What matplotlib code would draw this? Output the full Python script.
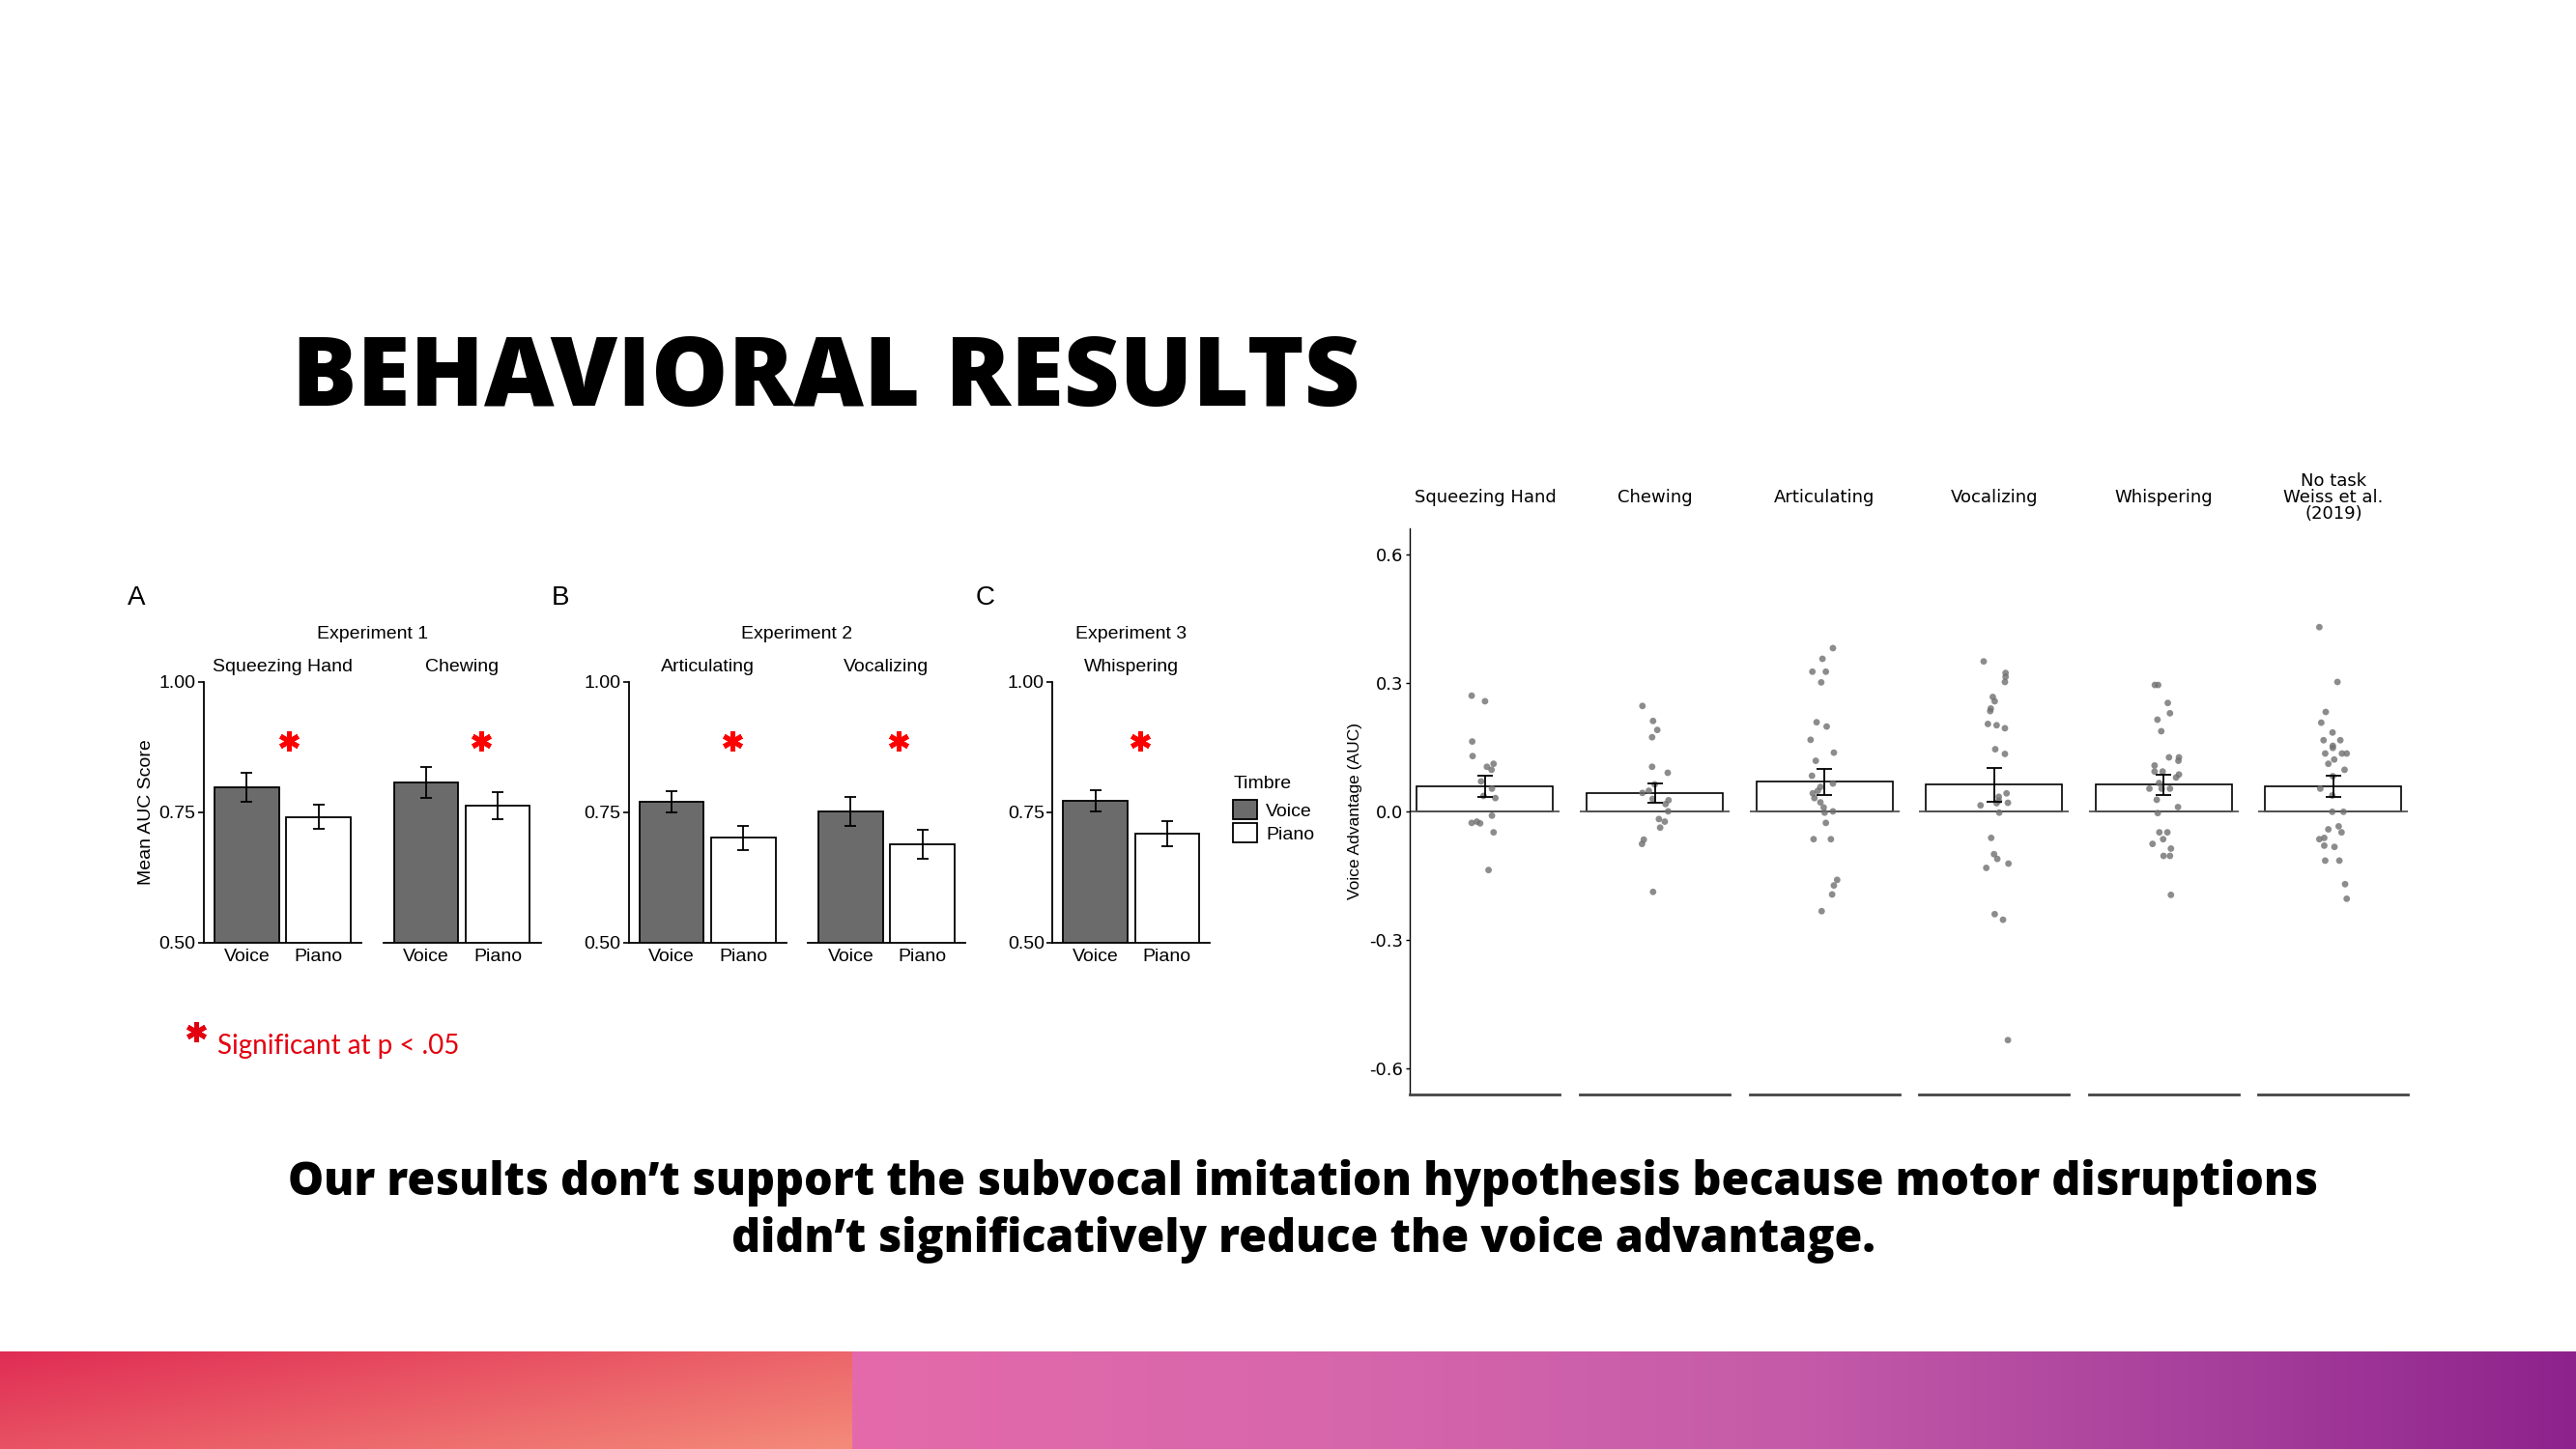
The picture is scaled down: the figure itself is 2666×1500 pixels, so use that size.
import numpy as np
import matplotlib.pyplot as plt
from matplotlib.patches import Patch
from matplotlib.lines import Line2D

plt.rcParams['axes.unicode_minus'] = False
plt.rcParams['font.family'] = ['Liberation Sans', 'DejaVu Sans']

# ---- left panels: mean AUC score by timbre ----
tasks = ["Squeezing Hand", "Chewing", "Articulating", "Vocalizing", "Whispering"]
voice_mean = [0.798, 0.807, 0.770, 0.752, 0.772]
voice_se = [0.028, 0.030, 0.020, 0.027, 0.021]
piano_mean = [0.741, 0.763, 0.701, 0.689, 0.709]
piano_se = [0.023, 0.026, 0.023, 0.027, 0.024]
timbres = ["Voice", "Piano"]
experiments = ["Experiment 1", "Experiment 2", "Experiment 3"]
exp_tasks = [[0, 1], [2, 3], [4]]
letters = ["A", "B", "C"]
star_x = [0.59, 0.77, 0.85, 0.67, 0.63]
star_y = 0.887

# ---- right panel: voice advantage per participant ----
adv_tasks = ["Squeezing Hand", "Chewing", "Articulating", "Vocalizing", "Whispering",
             "No task\nWeiss et al.\n(2019)"]
adv_mean = [0.0575, 0.043, 0.069, 0.062, 0.062, 0.058]
adv_se = [0.025, 0.023, 0.030, 0.040, 0.023, 0.025]

squeeze_pts = [0.270, 0.257, 0.163, 0.129, 0.104, 0.097, 0.111, 0.070, 0.053, 0.036,
               0.031, -0.010, -0.027, -0.024, -0.028, -0.049, -0.137]
squeeze_jit = [-0.098, 0.0, -0.094, -0.091, 0.014, 0.048, 0.063, -0.029, 0.051, -0.011,
               0.076, 0.051, -0.098, -0.060, -0.036, 0.063, 0.026]
chew_pts = [0.246, 0.211, 0.190, 0.173, 0.104, 0.090, 0.043, 0.048, 0.063, 0.029,
            0.026, 0.017, 0.0, -0.018, -0.024, -0.038, -0.066, -0.076, -0.188]
chew_jit = [-0.090, -0.012, 0.019, -0.019, -0.019, 0.096, -0.090, -0.043, 0.0, -0.015,
            0.102, 0.080, 0.099, 0.031, 0.074, 0.040, -0.080, -0.093, -0.012]
artic_pts = [0.381, 0.356, 0.326, 0.326, 0.301, 0.208, 0.198, 0.167, 0.137, 0.118,
             0.083, 0.065, 0.057, 0.048, 0.042, 0.031, 0.021, 0.009, -0.003, 0.0,
             -0.027, -0.065, -0.065, -0.160, -0.173, -0.194, -0.233]
artic_jit = [0.063, -0.014, -0.088, 0.011, -0.023, -0.057, 0.017, -0.101, 0.070, -0.063,
             -0.091, 0.063, -0.029, -0.048, -0.085, -0.073, -0.029, -0.005, 0.002, 0.063,
             0.011, -0.079, 0.048, 0.094, 0.070, 0.057, -0.020]
vocal_pts = [0.350, 0.323, 0.314, 0.302, 0.267, 0.257, 0.240, 0.234, 0.204, 0.201,
             0.194, 0.145, 0.134, 0.042, 0.034, 0.025, 0.020, 0.019, 0.014, -0.003,
             -0.062, -0.100, -0.111, -0.122, -0.132, -0.240, -0.253, -0.534]
vocal_jit = [-0.076, 0.085, 0.085, 0.080, -0.009, 0.005, -0.024, -0.028, -0.045, 0.019,
             0.080, 0.009, 0.080, 0.092, 0.035, 0.035, 0.102, 0.019, -0.099, 0.038,
             -0.021, 0.0, 0.024, 0.106, -0.057, 0.005, 0.066, 0.102]
whisp_pts = [0.295, 0.295, 0.253, 0.229, 0.214, 0.187, 0.126, 0.126, 0.118, 0.107,
             0.093, 0.093, 0.086, 0.079, 0.066, 0.053, 0.053, 0.053, 0.027, 0.010,
             -0.004, -0.049, -0.049, -0.065, -0.076, -0.087, -0.104, -0.104, -0.195]
whisp_jit = [-0.065, -0.041, 0.030, 0.046, -0.046, -0.018, 0.039, 0.112, 0.108, -0.067,
             -0.067, -0.008, 0.112, 0.091, -0.034, -0.105, -0.015, 0.046, -0.051, 0.105,
             -0.044, -0.032, 0.027, -0.004, -0.082, 0.053, -0.001, 0.046, 0.053]
notask_pts = [0.430, 0.302, 0.232, 0.207, 0.184, 0.166, 0.166, 0.153, 0.148, 0.135,
              0.135, 0.135, 0.121, 0.111, 0.097, 0.082, 0.053, 0.037, -0.001, -0.001,
              -0.042, -0.035, -0.049, -0.065, -0.062, -0.080, -0.083, -0.115, -0.115,
              -0.170, -0.204]
notask_jit = [-0.103, 0.030, -0.056, -0.089, -0.006, -0.072, 0.051, -0.004, -0.004, -0.060,
              0.063, 0.098, 0.006, -0.037, 0.082, -0.004, -0.096, -0.008, -0.008, 0.074,
              -0.037, 0.039, 0.060, -0.103, -0.067, -0.067, 0.008, -0.060, 0.044, 0.086,
              0.098]
adv_pts = [squeeze_pts, chew_pts, artic_pts, vocal_pts, whisp_pts, notask_pts]
adv_jit = [squeeze_jit, chew_jit, artic_jit, vocal_jit, whisp_jit, notask_jit]

W, H = 2666, 1500
fig = plt.figure(figsize=(W / 100, H / 100), dpi=100)
fig.patch.set_facecolor('white')


def rect(x0, y0, w, h):
    # pixel box with top-left origin -> figure fraction
    return [x0 / W, 1 - (y0 + h) / H, w / W, h / H]


def fx(x):
    return x / W


def fy(y):
    return 1 - y / H


# ---- left bar panels ----
dark = '#6b6b6b'
lx = [211, 396.6, 650.7, 836, 1089.3]
lw_, ly, lh = 163, 706, 270
left_axes = []
for g, idx in enumerate(exp_tasks):
    for j, i in enumerate(idx):
        ax = fig.add_axes(rect(lx[i], ly, lw_, lh))
        left_axes.append(ax)
        means = [voice_mean[i], piano_mean[i]]
        ses = [voice_se[i], piano_se[i]]
        ax.bar([0, 1], means, width=0.9, color=[dark, 'white'], edgecolor='black', linewidth=1.3)
        ax.errorbar([0, 1], means, yerr=ses, fmt='none', ecolor='black',
                    elinewidth=1.3, capsize=4, capthick=1.3)
        ax.plot(star_x[i], star_y, marker=(6, 2, 0), ms=15, mew=3.6, color='red')
        ax.set_xlim(-0.6, 1.6)
        ax.set_ylim(0.5, 1.0)
        ax.set_xticks([0, 1], timbres)
        ax.tick_params(axis='x', length=0, labelsize=14, pad=4)
        ax.spines[['top', 'right']].set_visible(False)
        ax.spines['bottom'].set_linewidth(1.3)
        if j == 0:
            ax.set_yticks([0.5, 0.75, 1.0], ['0.50', '0.75', '1.00'])
            ax.tick_params(axis='y', length=4, width=1.2, labelsize=14, pad=2)
            ax.spines['left'].set_linewidth(1.3)
        else:
            ax.set_yticks([])
            ax.spines['left'].set_visible(False)
        ax.text(0.5, 1 + 15 / lh, tasks[i], transform=ax.transAxes,
                ha='center', va='center', fontsize=14)
    x_first = lx[idx[0]]
    x_last = lx[idx[-1]] + lw_
    fig.text(fx((x_first + x_last) / 2), fy(657), experiments[g],
             ha='center', va='center', fontsize=14)

for letter, x in zip(letters, [141, 580, 1020]):
    fig.text(fx(x), fy(619), letter, ha='center', va='center', fontsize=20)

left_axes[0].set_ylabel("Mean AUC Score", fontsize=14)
left_axes[0].yaxis.set_label_coords(-(211 - 160) / lw_, 0.5)

# legend: title drawn separately so it sits a little higher than the keys
handles = [Patch(facecolor=dark, edgecolor='black', linewidth=1.3, label=timbres[0]),
           Patch(facecolor='white', edgecolor='black', linewidth=1.3, label=timbres[1])]
fig.legend(handles=handles, loc='upper left',
           bbox_to_anchor=(fx(1276), fy(828)), frameon=False, fontsize=14,
           handlelength=1.3, handleheight=1.2, handletextpad=0.45,
           labelspacing=0.18, borderpad=0, borderaxespad=0)
fig.text(fx(1277), fy(812), "Timbre", ha='left', va='center', fontsize=14)

# ---- right panel: voice advantage ----
rx0, pitch, rw = 1459.4, 175.6, 155
ry, rh = 547.2, 585.4
for k in range(len(adv_tasks)):
    ax = fig.add_axes(rect(rx0 + k * pitch, ry, rw, rh))
    ax.bar(0, adv_mean[k], width=1.0, color='white', edgecolor='black', linewidth=1.2, zorder=2)
    ax.axhline(0, color='#555555', lw=1.3, zorder=2.5)
    ax.scatter(adv_jit[k], adv_pts[k], s=24, color='#707070', alpha=0.8,
               edgecolors='none', zorder=3)
    ax.errorbar(0, adv_mean[k], yerr=adv_se[k], fmt='none', ecolor='black',
                elinewidth=1.3, capsize=5.5, capthick=1.3, zorder=4)
    ax.set_xlim(-0.55, 0.55)
    ax.set_ylim(-0.66, 0.66)
    ax.set_xticks([])
    ax.spines[['top', 'right']].set_visible(False)
    ax.spines['bottom'].set_linewidth(2.0)
    ax.spines['bottom'].set_color('#444444')
    if k == 0:
        ax.set_yticks([-0.6, -0.3, 0.0, 0.3, 0.6], ['-0.6', '-0.3', '0.0', '0.3', '0.6'])
        ax.tick_params(axis='y', length=3, width=1.0, labelsize=13, pad=2)
        for t in ax.get_yticklabels():
            t.set_family('DejaVu Sans')
        ax.spines['left'].set_linewidth(1.0)
        ax.set_ylabel("Voice Advantage (AUC)", fontsize=12.5)
        ax.yaxis.set_label_coords(-(1459.4 - 1410) / rw, 0.5)
    else:
        ax.set_yticks([])
        ax.spines['left'].set_visible(False)
    ax.text(0.5, 1 + 32 / rh, adv_tasks[k], transform=ax.transAxes, ha='center',
            va='center', fontsize=13, family='DejaVu Sans', linespacing=0.95)

# ---- slide text ----
fig.text(fx(302), fy(420), "BEHAVIORAL RESULTS", family=['Open Sans', 'Lato'],
         fontweight='heavy', fontsize=72, ha='left', va='baseline')
fig.text(fx(1349), fy(1254),
         "Our results don\u2019t support the subvocal imitation hypothesis because motor disruptions\n"
         "didn\u2019t significatively reduce the voice advantage.",
         family=['Open Sans', 'Lato'], fontweight='heavy', fontsize=33.6, ha='center',
         va='center', linespacing=1.27, multialignment='center')
red = '#e3000f'
fig.add_artist(Line2D([fx(203)], [fy(1068)], marker=(6, 2, 0), ms=15, mew=3.6,
                      color=red, transform=fig.transFigure))
fig.text(fx(225), fy(1083), "Significant at p < .05", family='Lato', fontsize=20,
         color=red, ha='left', va='center')

# ---- gradient footer band ----
band_h = 101
split = 882
yy, xx = np.mgrid[0:band_h, 0:W]
tl = np.clip(0.6 * xx / split + 0.4 * yy / band_h, 0, 1)
c0 = np.array([224, 44, 84]) / 255
c1 = np.array([244, 140, 122]) / 255
left_img = c0 + (c1 - c0) * tl[..., None]
stops = np.array([0.0, 0.3, 0.55, 0.8, 1.0])
cols = np.array([[228, 106, 170], [214, 102, 172], [196, 90, 168],
                 [165, 62, 155], [142, 34, 140]]) / 255
tr = (xx - split) / (W - split)
right_img = np.stack([np.interp(tr, stops, cols[:, c]) for c in range(3)], axis=-1)
img = np.where((xx < split)[..., None], left_img, right_img)
bax = fig.add_axes([0, 0, 1, band_h / H])
bax.imshow(img, aspect='auto', extent=[0, W, 0, band_h], interpolation='bilinear')
bax.set_axis_off()

fig.savefig('out.png', dpi=100, facecolor='white')
